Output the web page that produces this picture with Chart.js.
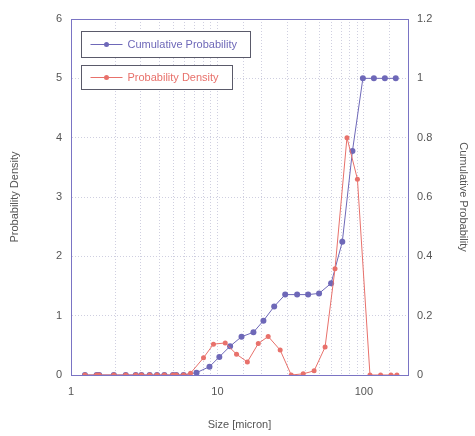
<!DOCTYPE html>
<html>
<head>
<meta charset="utf-8">
<script src="https://cdn.jsdelivr.net/npm/chart.js@4"></script>
<style>
  html, body { margin: 0; padding: 0; background: #fff; }
  #wrap { position: relative; width: 475px; height: 436px; }
</style>
</head>
<body>
<div id="wrap"><canvas id="psd-chart" width="475" height="436"></canvas></div>
<script>
// sizes (micron)
const cumSizes = [1.245, 1.496, 1.557, 1.961, 2.366, 2.768, 3.027, 3.446, 3.865, 4.34, 4.966, 5.236, 5.871,
    7.2, 8.82, 10.3, 12.2, 14.6, 17.6, 20.6, 24.4, 29.0, 35.0, 41.6, 49.4, 59.7, 71.2, 83.5, 98.4, 117, 139, 165];
const cumProb = [0, 0, 0, 0, 0, 0, 0, 0, 0, 0, 0, 0, 0,
    0.008, 0.028, 0.061, 0.097, 0.129, 0.144, 0.183, 0.231, 0.271, 0.271, 0.271, 0.275, 0.309, 0.449, 0.755, 1.0, 1.0, 1.0, 1.0];

const densSizes = [1.245, 1.496, 1.557, 1.961, 2.366, 2.768, 3.027, 3.446, 3.865, 4.34, 4.966, 5.236, 5.871,
    6.55, 8.03, 9.39, 11.3, 13.5, 16.0, 19.0, 22.2, 26.8, 31.9, 38.5, 45.7, 54.3, 63.5, 76.6, 90.3, 110, 130, 153, 168];
const density = [0, 0, 0, 0, 0, 0, 0, 0, 0, 0, 0, 0, 0,
    0.03, 0.29, 0.52, 0.54, 0.35, 0.22, 0.53, 0.65, 0.42, 0.0, 0.02, 0.07, 0.47, 1.79, 4.0, 3.30, 0, 0, 0, 0];

const xLabels = [1, 10, 100];
const seriesNames = ['Cumulative Probability', 'Probability Density'];

const BLUE = '#6e68b8';
const RED = '#e8716b';
const AXIS = '#7a74c4';
const GRID = '#cfcfe0';
const TEXT = '#555';
const FONT = { family: '"Liberation Sans", Arial, sans-serif', size: 11 };

const toXY = (xs, ys) => xs.map((x, i) => ({ x: x, y: ys[i] }));

// frame on top + the two boxed legends in the upper left
const framePlugin = {
    id: 'frameAndLegend',
    afterDraw(chart) {
        const { ctx, chartArea: a } = chart;
        ctx.save();
        ctx.strokeStyle = AXIS;
        ctx.lineWidth = 1;
        ctx.beginPath();
        ctx.moveTo(a.left, a.top + 0.5);
        ctx.lineTo(a.right, a.top + 0.5);
        ctx.stroke();

        const boxes = [
            { x: 81.5, y: 31.5, w: 169, h: 26, color: BLUE, label: seriesNames[0] },
            { x: 81.5, y: 65.5, w: 151, h: 24, color: RED, label: seriesNames[1] }
        ];
        boxes.forEach(b => {
            ctx.fillStyle = '#fff';
            ctx.fillRect(b.x, b.y, b.w, b.h);
            ctx.strokeStyle = '#5a5a6a';
            ctx.lineWidth = 1;
            ctx.strokeRect(b.x, b.y, b.w, b.h);
            const cy = b.y + b.h / 2;
            ctx.strokeStyle = b.color;
            ctx.beginPath();
            ctx.moveTo(b.x + 9, cy);
            ctx.lineTo(b.x + 41, cy);
            ctx.stroke();
            ctx.fillStyle = b.color;
            ctx.beginPath();
            ctx.arc(b.x + 25, cy, 2.5, 0, Math.PI * 2);
            ctx.fill();
            ctx.font = `${FONT.size}px ${FONT.family}`;
            ctx.textBaseline = 'middle';
            ctx.fillText(b.label, b.x + 46, cy + 0.5);
        });
        ctx.restore();
    }
};

new Chart(document.getElementById('psd-chart').getContext('2d'), {
    type: 'line',
    data: {
        datasets: [
            {
                label: seriesNames[1], data: toXY(densSizes, density), yAxisID: 'y',
                borderColor: RED, backgroundColor: RED, borderWidth: 1,
                pointRadius: 2.5, pointBorderWidth: 0, tension: 0, fill: false
            },
            {
                label: seriesNames[0], data: toXY(cumSizes, cumProb), yAxisID: 'y2',
                borderColor: BLUE, backgroundColor: BLUE, borderWidth: 1,
                pointRadius: 3, pointBorderWidth: 0, tension: 0, fill: false
            }
        ]
    },
    options: {
        responsive: false, animation: false,
        layout: { padding: { top: 19, left: 0, right: 0, bottom: 0 } },
        plugins: { legend: { display: false }, tooltip: { enabled: false } },
        scales: {
            x: {
                type: 'logarithmic', min: 1, max: 200,
                border: { color: AXIS, width: 1, dash: [1, 2] },
                grid: { color: GRID, drawTicks: false },
                ticks: {
                    color: TEXT, font: FONT, padding: 10, autoSkip: false, maxRotation: 0,
                    callback: v => xLabels.includes(v) ? String(v) : ''
                },
                title: { display: true, text: 'Size [micron]', color: TEXT, font: FONT, padding: { top: 0, bottom: 4 } },
                afterFit: s => { s.height = 61; }
            },
            y: {
                position: 'left', min: 0, max: 6,
                border: { color: AXIS, width: 1, dash: [1, 2] },
                grid: { color: GRID, drawTicks: false },
                ticks: { color: TEXT, font: FONT, stepSize: 1, padding: 9 },
                title: { display: true, text: 'Probability Density', color: TEXT, font: FONT, padding: { top: 8, bottom: 0 } },
                afterFit: s => { s.width = 71; }
            },
            y2: {
                position: 'right', min: 0, max: 1.2,
                border: { color: AXIS, width: 1 },
                grid: { drawOnChartArea: false, drawTicks: false },
                ticks: { color: TEXT, font: FONT, stepSize: 0.2, padding: 9,
                    callback: v => String(Math.round(v * 10) / 10) },
                title: { display: true, text: 'Cumulative Probability', color: TEXT, font: FONT, padding: { top: 5, bottom: 0 } },
                afterFit: s => { s.width = 67; }
            }
        }
    },
    plugins: [framePlugin]
});
</script>
</body>
</html>
